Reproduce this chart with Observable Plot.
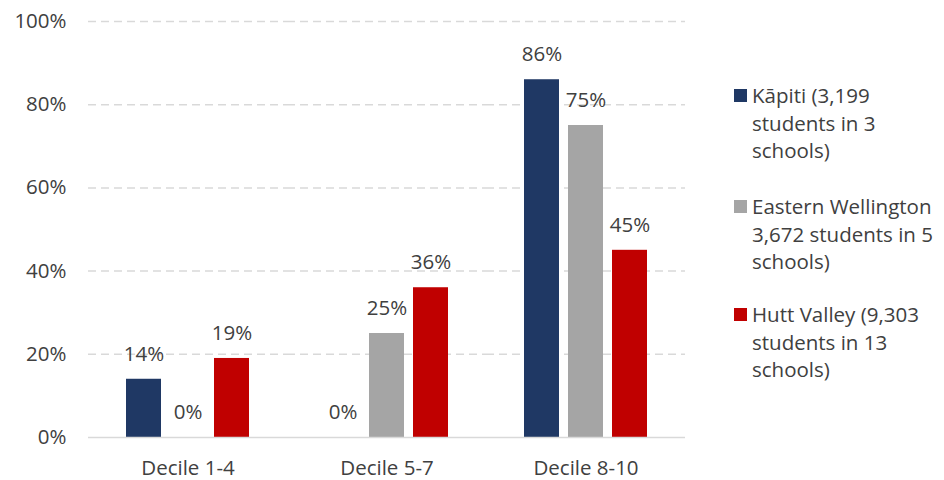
<!DOCTYPE html>
<html>
<head>
<meta charset="utf-8">
<script src="https://cdn.jsdelivr.net/npm/d3@7"></script>
<script src="https://cdn.jsdelivr.net/npm/@observablehq/plot@0.6"></script>
<style>
  body { margin: 0; background: #fff; }
  #wrap { position: relative; width: 944px; height: 480px; font-family: "Open Sans", Lato, sans-serif; color: #404040; }
  #chart { position: absolute; left: 0; top: 0; }
  .leg { position: absolute; left: 752px; font-size: 20.5px; line-height: 27.5px; color: #404040; white-space: nowrap; }
  .leg .sw { position: absolute; left: -18px; top: 7px; width: 13px; height: 13px; }
</style>
</head>
<body>
<div id="wrap"><div id="chart"></div></div>
<script>
const deciles = ["Decile 1-4", "Decile 5-7", "Decile 8-10"];
const seriesNames = ["Kāpiti", "Eastern Wellington", "Hutt Valley"];
const legendLines = [
  ["Kāpiti (3,199", "students in 3", "schools)"],
  ["Eastern Wellington", "3,672 students in 5", "schools)"],
  ["Hutt Valley (9,303", "students in 13", "schools)"]
];
const kapiti = [14, 0, 86];
const easternWellington = [0, 25, 75];
const huttValley = [19, 36, 45];
const colors = ["#1f3864", "#a5a5a5", "#c00000"];
const yTicks = [0, 20, 40, 60, 80, 100];

const seriesValues = [kapiti, easternWellington, huttValley];
const data = [];
deciles.forEach((d, i) => {
  seriesNames.forEach((s, j) => {
    data.push({decile: d, series: s, value: seriesValues[j][i]});
  });
});

const FS = 20.5;
const chart = Plot.plot({
  width: 700,
  height: 480,
  marginLeft: 88,
  marginRight: 15,
  marginTop: 21,
  marginBottom: 43,
  style: {fontFamily: "'Open Sans', Lato, sans-serif", fontSize: FS + "px", color: "#404040", background: "white"},
  fx: {domain: deciles, padding: 0, label: null, axis: null},
  x: {domain: seriesNames, axis: null, paddingInner: 0.2, paddingOuter: 0.86},
  y: {domain: [0, 100], label: null, axis: null},
  color: {domain: seriesNames, range: colors},
  marks: [
    Plot.ruleY(yTicks.filter(t => t > 0), {stroke: "#d9d9d9", strokeWidth: 1.5, strokeDasharray: "8,5"}),
    Plot.barY(data, {fx: "decile", x: "series", y: "value", fill: "series"}),
    Plot.ruleY([0], {stroke: "#d9d9d9", strokeWidth: 1.5}),
    Plot.text(data, {fx: "decile", x: "series", y: "value", text: d => d.value + "%", dy: -25, fill: "#404040", fontSize: FS}),
    Plot.axisY({ticks: yTicks, tickFormat: d => d + "%", tickSize: 0, tickPadding: 22, fontSize: FS, label: null, fill: "#404040"}),
    Plot.axisFx({anchor: "bottom", tickSize: 0, tickPadding: 23, fontSize: FS, label: null, fill: "#404040"})
  ]
});
document.getElementById("chart").appendChild(chart);

const tops = [82, 193, 301];
const wrap = document.getElementById("wrap");
legendLines.forEach((lines, i) => {
  const div = document.createElement("div");
  div.className = "leg";
  div.style.top = tops[i] + "px";
  const sw = document.createElement("span");
  sw.className = "sw";
  sw.style.background = colors[i];
  div.appendChild(sw);
  lines.forEach((l, k) => {
    if (k > 0) div.appendChild(document.createElement("br"));
    div.appendChild(document.createTextNode(l));
  });
  wrap.appendChild(div);
});
</script>
</body>
</html>
